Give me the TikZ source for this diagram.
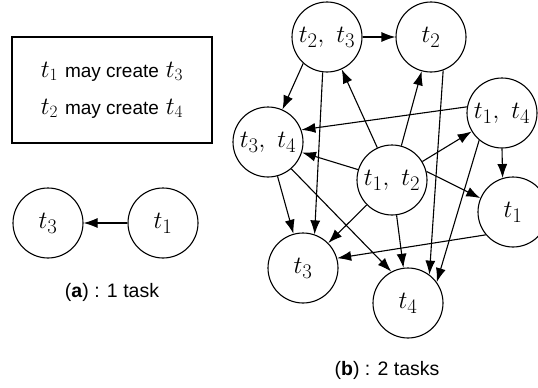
\documentclass[tikz,border=0pt]{standalone}
\usepackage[no-math]{fontspec}
\setmainfont{Liberation Sans}
\usetikzlibrary{arrows.meta}
\newcommand{\maycreate}{{\fontsize{19}{23}\selectfont may create}}
\tikzset{
    task/.style={draw, circle, minimum size=70pt, inner sep=0pt, line width=1.1pt, font=\fontsize{28}{33}\selectfont},
    creates/.style={-{Latex[length=14pt,width=10pt]}, line width=1.1pt},
    caption/.style={font=\fontsize{19.5}{23}\selectfont}
}
\begin{document}
\begin{tikzpicture}[x=1pt, y=-1pt]
                \useasboundingbox (0,0) rectangle (538,388);

                \node[draw, line width=1.1pt, minimum width=200pt, minimum height=106pt, align=center, font=\fontsize{25}{29}\selectfont] (rules) at (112,90) {$t_1$ \maycreate{} $t_3$\\[8pt]$t_2$ \maycreate{} $t_4$};

                \node[task] (a3) at (48,223) {$t_3$};
                \node[task] (a1) at (163,223) {$t_1$};
                \node[caption] (capa) at (112,292) {(\textbf{a}) : 1 task};

                \draw[creates] (a1) -- (a3);

                \node[task] (t23) at (327,37) {$t_2,\ t_3$};
                \node[task] (t2) at (431,37) {$t_2$};
                \node[task] (t14) at (502,113) {$t_1,\ t_4$};
                \node[task] (t34) at (268,142) {$t_3,\ t_4$};
                \node[task] (t12) at (392,180) {$t_1,\ t_2$};
                \node[task] (t1) at (513,212) {$t_1$};
                \node[task] (t3) at (303,268) {$t_3$};
                \node[task] (t4) at (408,303) {$t_4$};
                \node[caption] (capb) at (387,370) {(\textbf{b}) : 2 tasks};

                \draw[creates] (t23) -- (t2);
                \draw[creates] (t23.-132) -- (t34.66);
                \draw[creates] (t23.-97) -- (t3.71);
                \draw[creates] (t12) -- (t23);
                \draw[creates] (t12) -- (t2);
                \draw[creates] (t12) -- (t14);
                \draw[creates] (t12) -- (t34);
                \draw[creates] (t12.14) -- (t1.157);
                \draw[creates] (t12) -- (t3);
                \draw[creates] (t12) -- (t4);
                \draw[creates] (t14.170) -- (t34.20);
                \draw[creates] (t14.-90) -- (t1.107);
                \draw[creates] (t14.-130) -- (t4.36);
                \draw[creates] (t2.-70) -- (t4.53);
                \draw[creates] (t34) -- (t3);
                \draw[creates] (t34.-49) -- (t4.118);
                \draw[creates] (t1.-140) -- (t3.16);
            \end{tikzpicture}
\end{document}
